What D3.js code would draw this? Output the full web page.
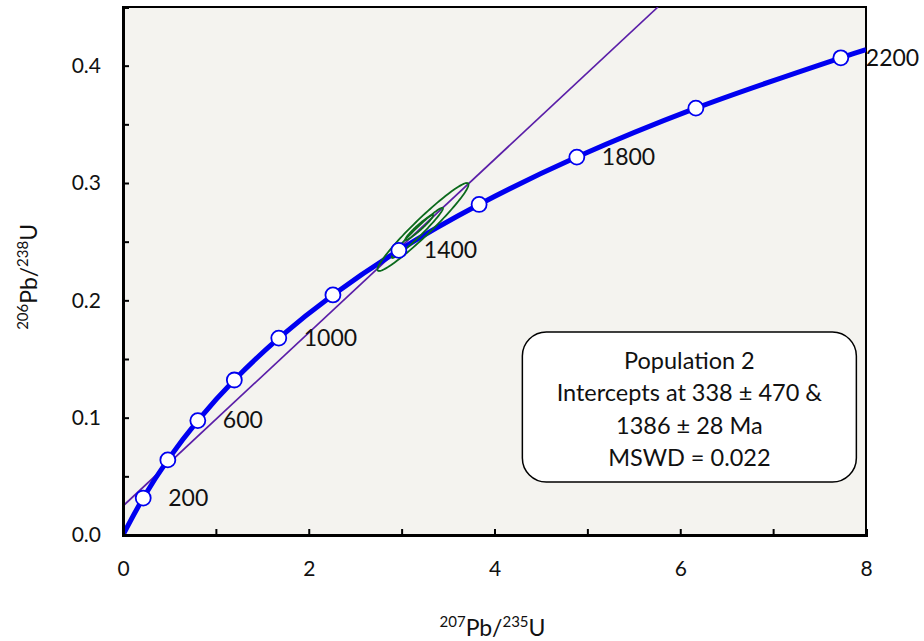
<!DOCTYPE html>
<html>
<head>
<meta charset="utf-8">
<script src="https://cdn.jsdelivr.net/npm/d3@7"></script>
<style>
  body { margin: 0; background: #fff; font-family: Lato, "Open Sans", sans-serif; }
  .axis text { font-family: Lato, sans-serif; font-size: 21px; fill: #111; }
  .axis line { stroke: #000; stroke-width: 2; }
  .axis path { stroke: #000; stroke-width: 3; }
</style>
</head>
<body>
<div id="chart"></div>
<script>
// concordia markers (Ma) and their ratios
const concordiaAges = [200, 400, 600, 800, 1000, 1200, 1400, 1600, 1800, 2000, 2200];
const concordiaX = [0.2177, 0.4828, 0.8056, 1.1987, 1.6774, 2.2603, 2.9701, 3.8343, 4.8866, 6.1682, 7.7289];
const concordiaY = [0.0315, 0.0640, 0.0975, 0.1321, 0.1678, 0.2046, 0.2426, 0.2817, 0.3221, 0.3638, 0.4067];
const curveStart = [0, 0];
const curveEnd = [8, 0.4136];
const labelledAges = [200, 600, 1000, 1400, 1800, 2200];

// discordia line end points
const discordia = [[0, 0.0247], [5.76, 0.45]];

// error ellipses: centre, half extents, correlation
const ellipseCx = [3.23, 3.17, 3.19];
const ellipseCy = [0.2625, 0.2575, 0.2621];
const ellipseDx = [0.49, 0.275, 0.15];
const ellipseDy = [0.0375, 0.0214, 0.0107];
const ellipseRho = [0.965, 0.975, 0.96];

const xTicks = d3.range(0, 9, 1);
const yTicks = d3.range(0, 0.451, 0.05);

const noteLines = ["Population 2", "Intercepts at 338 \u00b1 470 &", "1386 \u00b1 28 Ma", "MSWD = 0.022"];

const width = 924, height = 641;
const margin = { top: 7, right: 58, bottom: 106, left: 123 };
const innerW = width - margin.left - margin.right;
const innerH = height - margin.top - margin.bottom;

const svg = d3.select("#chart").append("svg")
    .attr("width", width)
    .attr("height", height);

const g = svg.append("g").attr("transform", `translate(${margin.left},${margin.top})`);
const x = d3.scaleLinear().domain([0, 8]).range([0, innerW]);
const y = d3.scaleLinear().domain([0, 0.45]).range([innerH, 0]);

g.append("rect")
    .attr("width", innerW)
    .attr("height", innerH)
    .attr("fill", "#f4f3ef")
    .attr("stroke", "#000")
    .attr("stroke-width", 2);

svg.append("clipPath").attr("id", "plot-clip")
    .append("rect").attr("width", innerW).attr("height", innerH);

const plot = g.append("g").attr("clip-path", "url(#plot-clip)");

// discordia
plot.append("line")
    .attr("x1", x(discordia[0][0])).attr("y1", y(discordia[0][1]))
    .attr("x2", x(discordia[1][0])).attr("y2", y(discordia[1][1]))
    .attr("stroke", "#5a1ea8")
    .attr("stroke-width", 1.7);

// concordia curve
const curvePts = [curveStart].concat(concordiaX.map((v, i) => [v, concordiaY[i]]), [curveEnd]);
plot.append("path")
    .datum(curvePts)
    .attr("fill", "none")
    .attr("stroke", "#0000f0")
    .attr("stroke-width", 5)
    .attr("d", d3.line().x(d => x(d[0])).y(d => y(d[1])).curve(d3.curveCatmullRom));

// ellipses
function ellipsePath(i) {
    const r = ellipseRho[i];
    const pts = d3.range(0, 361, 3).map(deg => {
        const t = deg * Math.PI / 180;
        return [
            x(ellipseCx[i] + ellipseDx[i] * Math.cos(t)),
            y(ellipseCy[i] + ellipseDy[i] * (r * Math.cos(t) + Math.sqrt(1 - r * r) * Math.sin(t)))
        ];
    });
    return d3.line()(pts) + "Z";
}
plot.selectAll("path.ellipse")
    .data(ellipseCx.map((_, i) => i))
    .enter().append("path")
    .attr("class", "ellipse")
    .attr("d", ellipsePath)
    .attr("fill", "none")
    .attr("stroke", "#0b6a1c")
    .attr("stroke-width", 1.8);

// markers
g.selectAll("circle.age")
    .data(concordiaAges)
    .enter().append("circle")
    .attr("class", "age")
    .attr("cx", (d, i) => x(concordiaX[i]))
    .attr("cy", (d, i) => y(concordiaY[i]))
    .attr("r", 7.5)
    .attr("fill", "#fff")
    .attr("stroke", "#0000f0")
    .attr("stroke-width", 1.8);

g.selectAll("text.age-label")
    .data(labelledAges)
    .enter().append("text")
    .attr("class", "age-label")
    .attr("x", d => x(concordiaX[concordiaAges.indexOf(d)]) + 25)
    .attr("y", d => y(concordiaY[concordiaAges.indexOf(d)]) + 2)
    .attr("dominant-baseline", "middle")
    .attr("font-size", 23)
    .attr("fill", "#111")
    .text(d => d);

// axes
g.append("g")
    .attr("class", "axis")
    .attr("transform", `translate(0,${innerH})`)
    .call(d3.axisBottom(x).tickValues(xTicks).tickSize(-6).tickPadding(26)
        .tickFormat(d => d % 2 === 0 ? d : ""));

g.append("g")
    .attr("class", "axis")
    .call(d3.axisLeft(y).tickValues(yTicks).tickSize(-6).tickPadding(22)
        .tickFormat(d => Math.round(d * 100) % 10 === 0 ? d3.format(".1f")(d) : ""));

g.selectAll(".axis path").attr("stroke-width", 3);

// axis titles
const xt = svg.append("text")
    .attr("x", margin.left + x(4) - 2)
    .attr("y", 636)
    .attr("text-anchor", "middle")
    .attr("font-size", 23)
    .attr("fill", "#111");
xt.append("tspan").attr("font-size", 15).attr("dy", -9).text("207");
xt.append("tspan").attr("dy", 9).text("Pb/");
xt.append("tspan").attr("font-size", 15).attr("dy", -9).text("235");
xt.append("tspan").attr("dy", 9).text("U");

const yt = svg.append("text")
    .attr("transform", `translate(37,${margin.top + y(0.22)}) rotate(-90)`)
    .attr("text-anchor", "middle")
    .attr("font-size", 23)
    .attr("fill", "#111");
yt.append("tspan").attr("font-size", 15).attr("dy", -9).text("206");
yt.append("tspan").attr("dy", 9).text("Pb/");
yt.append("tspan").attr("font-size", 15).attr("dy", -9).text("238");
yt.append("tspan").attr("dy", 9).text("U");

// annotation box
const box = g.append("g").attr("transform", `translate(${x(4.3)},${y(0.173)})`);
box.append("rect")
    .attr("width", 334)
    .attr("height", 150)
    .attr("rx", 24)
    .attr("fill", "#fff")
    .attr("stroke", "#000")
    .attr("stroke-width", 1.5);
box.selectAll("text")
    .data(noteLines)
    .enter().append("text")
    .attr("x", 167)
    .attr("y", (d, i) => 31 + i * 32.5)
    .attr("text-anchor", "middle")
    .attr("dominant-baseline", "middle")
    .attr("font-size", 23.5)
    .attr("fill", "#111")
    .text(d => d);
</script>
</body>
</html>
